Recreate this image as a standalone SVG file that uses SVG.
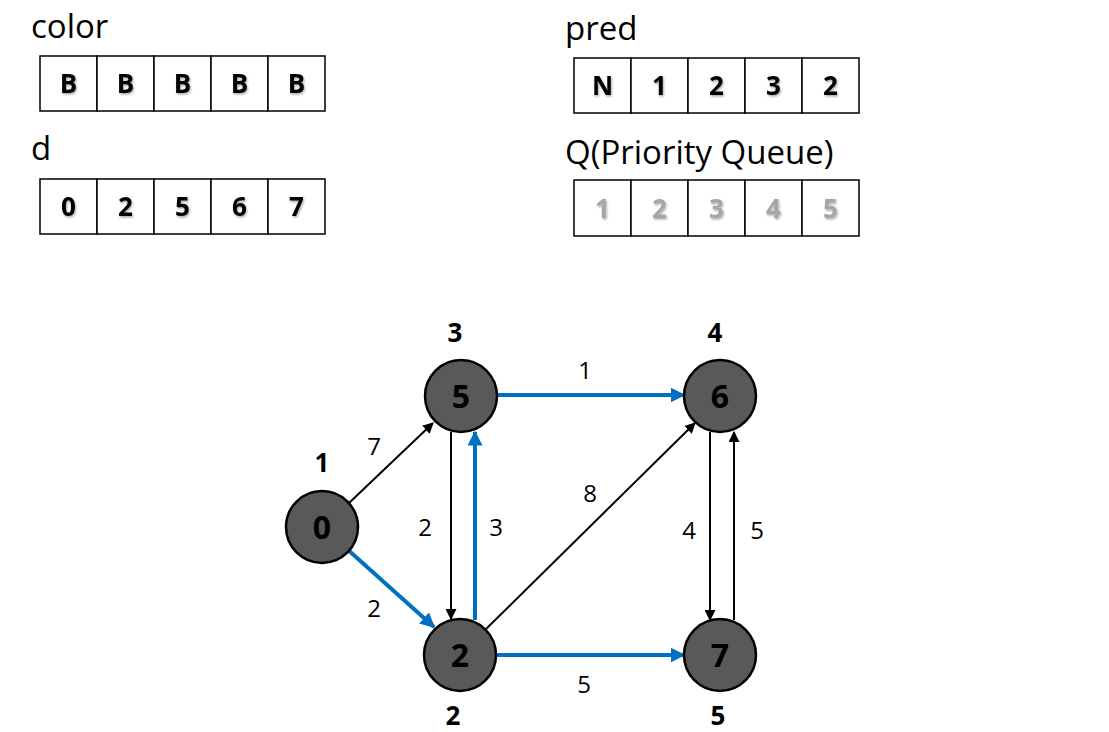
<svg xmlns="http://www.w3.org/2000/svg" width="1109" height="732" viewBox="0 0 1109 732">
<defs>
<marker id="abk" viewBox="0 0 10 10" refX="9" refY="5" markerWidth="11" markerHeight="11" orient="auto" markerUnits="userSpaceOnUse"><path d="M0,0 L10,5 L0,10 z" fill="#000"/></marker>
<marker id="abl" viewBox="0 0 10 10" refX="9" refY="5" markerWidth="15" markerHeight="15" orient="auto" markerUnits="userSpaceOnUse"><path d="M0,0 L10,5 L0,10 z" fill="#0070C0"/></marker>
<filter id="sh" x="-30%" y="-30%" width="160%" height="160%"><feDropShadow dx="1" dy="1.5" stdDeviation="1.2" flood-color="#000" flood-opacity="0.35"/></filter>
</defs>
<style>
text{font-family:"Open Sans","Liberation Sans",sans-serif}
.title{font-size:33px;fill:#000}
.cell{fill:#fff;stroke:#000;stroke-width:1.5}
.ct{font-size:26px;font-weight:bold;text-anchor:middle;fill:#000}
.cg{font-size:26px;font-weight:bold;text-anchor:middle;fill:#a6a6a6}
.node{fill:#595959;stroke:#000;stroke-width:2.5}
.nt{font-size:32px;font-weight:bold;text-anchor:middle;fill:#000}
.nl{font-size:26px;font-weight:bold;text-anchor:middle;fill:#000}
.el{font-size:24px;text-anchor:middle;fill:#000}
.k{stroke:#000;stroke-width:2;fill:none;marker-end:url(#abk)}
.b{stroke:#0070C0;stroke-width:4;fill:none;marker-end:url(#abl)}
</style>
<g id="color-array">
<text class="title" x="31" y="38">color</text>
<rect class="cell" x="40" y="56" width="57" height="55"/><rect class="cell" x="97" y="56" width="57" height="55"/><rect class="cell" x="154" y="56" width="57" height="55"/><rect class="cell" x="211" y="56" width="57" height="55"/><rect class="cell" x="268" y="56" width="57" height="55"/>
<g filter="url(#sh)"><text class="ct" x="68.5" y="93">B</text><text class="ct" x="125.5" y="93">B</text><text class="ct" x="182.5" y="93">B</text><text class="ct" x="239.5" y="93">B</text><text class="ct" x="296.5" y="93">B</text></g>
</g>
<g id="d-array">
<text class="title" x="31" y="160">d</text>
<rect class="cell" x="40" y="179" width="57" height="55"/><rect class="cell" x="97" y="179" width="57" height="55"/><rect class="cell" x="154" y="179" width="57" height="55"/><rect class="cell" x="211" y="179" width="57" height="55"/><rect class="cell" x="268" y="179" width="57" height="55"/>
<g filter="url(#sh)"><text class="ct" x="68.5" y="216">0</text><text class="ct" x="125.5" y="216">2</text><text class="ct" x="182.5" y="216">5</text><text class="ct" x="239.5" y="216">6</text><text class="ct" x="296.5" y="216">7</text></g>
</g>
<g id="pred-array">
<text class="title" x="565" y="40">pred</text>
<rect class="cell" x="574" y="58" width="57" height="55"/><rect class="cell" x="631" y="58" width="57" height="55"/><rect class="cell" x="688" y="58" width="57" height="55"/><rect class="cell" x="745" y="58" width="57" height="55"/><rect class="cell" x="802" y="58" width="57" height="55"/>
<g filter="url(#sh)"><text class="ct" x="602.5" y="95">N</text><text class="ct" x="659.5" y="95">1</text><text class="ct" x="716.5" y="95">2</text><text class="ct" x="773.5" y="95">3</text><text class="ct" x="830.5" y="95">2</text></g>
</g>
<g id="queue-array">
<text class="title" x="565" y="164">Q(Priority Queue)</text>
<rect class="cell" x="574" y="180" width="57" height="56"/><rect class="cell" x="631" y="180" width="57" height="56"/><rect class="cell" x="688" y="180" width="57" height="56"/><rect class="cell" x="745" y="180" width="57" height="56"/><rect class="cell" x="802" y="180" width="57" height="56"/>
<g filter="url(#sh)"><text class="cg" x="602.5" y="218">1</text><text class="cg" x="659.5" y="218">2</text><text class="cg" x="716.5" y="218">3</text><text class="cg" x="773.5" y="218">4</text><text class="cg" x="830.5" y="218">5</text></g>
</g>
<g id="connectors">
<line class="k" x1="349" y1="503" x2="433" y2="423"/>
<line class="b" x1="347" y1="549" x2="434" y2="627"/>
<line class="k" x1="451" y1="432" x2="451" y2="619"/>
<line class="b" x1="475" y1="620" x2="475" y2="432"/>
<line class="b" x1="497" y1="395" x2="684" y2="395"/>
<line class="k" x1="486" y1="629" x2="695" y2="423"/>
<line class="k" x1="710" y1="432" x2="710" y2="620"/>
<line class="k" x1="734" y1="620" x2="734" y2="432"/>
<line class="b" x1="496" y1="655" x2="684" y2="655"/>
<text class="el" x="374" y="455">7</text>
<text class="el" x="374" y="617">2</text>
<text class="el" x="425" y="536">2</text>
<text class="el" x="496" y="536">3</text>
<text class="el" x="585" y="379">1</text>
<text class="el" x="590" y="502">8</text>
<text class="el" x="689" y="539">4</text>
<text class="el" x="757" y="539">5</text>
<text class="el" x="584" y="693">5</text>
</g>
<g id="node-0"><circle class="node" cx="322" cy="527" r="36"/><text class="nt" x="322" y="539">0</text><text class="nl" x="322" y="472">1</text></g>
<g id="node-5"><circle class="node" cx="461" cy="396" r="36"/><text class="nt" x="461" y="408">5</text><text class="nl" x="455" y="342">3</text></g>
<g id="node-6"><circle class="node" cx="720" cy="396" r="36"/><text class="nt" x="720" y="408">6</text><text class="nl" x="715" y="342">4</text></g>
<g id="node-2"><circle class="node" cx="460" cy="655" r="36"/><text class="nt" x="460" y="667">2</text><text class="nl" x="453" y="725">2</text></g>
<g id="node-7"><circle class="node" cx="720" cy="655" r="36"/><text class="nt" x="720" y="667">7</text><text class="nl" x="718" y="725">5</text></g>
</svg>
